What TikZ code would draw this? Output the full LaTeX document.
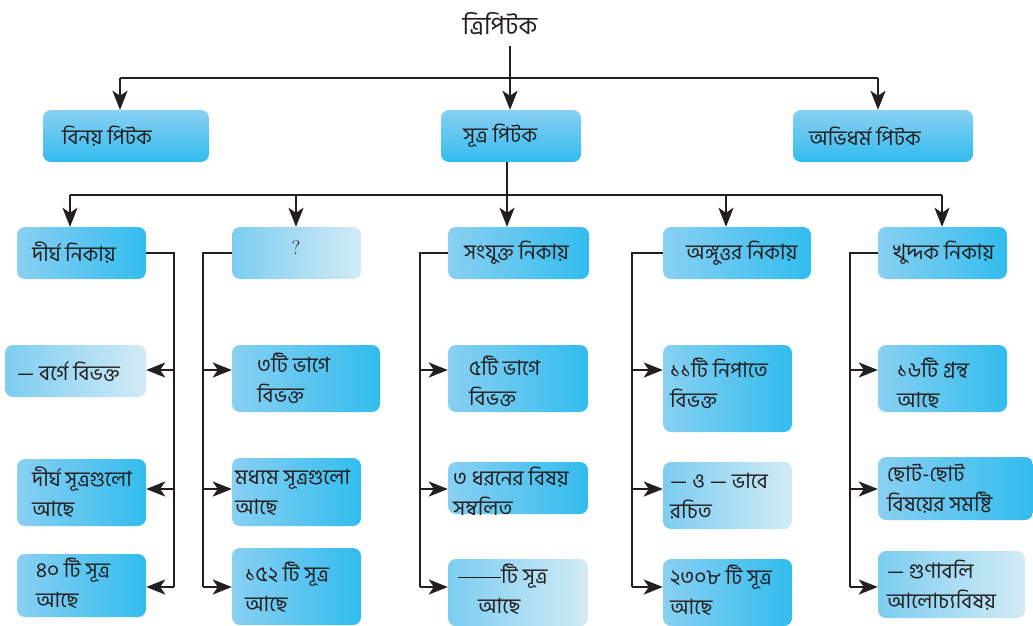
\documentclass[tikz,border=0pt]{standalone}
\usepackage{fontspec}
\newfontfamily\bn[Script=Bengali]{Hind Siliguri}
\usetikzlibrary{arrows.meta,calc}
\definecolor{bL}{RGB}{137,208,242}
\definecolor{bD}{RGB}{50,188,238}
\definecolor{pl}{RGB}{210,235,245}
\definecolor{ink}{RGB}{35,31,32}
\tikzset{
 ln/.style={draw=ink, line width=2.4pt},
 arr/.style={ln, -{Stealth[length=19pt,width=15pt,inset=5pt]}},
 boxv/.style={rounded corners=8pt, top color=bL, bottom color=bD, inner sep=0pt},
 boxh/.style={rounded corners=8pt, left color=bL, right color=bD, inner sep=0pt},
 boxp/.style={rounded corners=8pt, left color=bL!85!bD, right color=pl, inner sep=0pt},
 txt/.style={font=\bn\fontsize{21}{30}\selectfont, anchor=west, inner sep=0pt, align=left, text=ink},
}
\newcommand\mybox[6]{\node[#6, minimum width={(#4-#2)*1pt}, minimum height={(#5-#3)*1pt}] (#1) at ({(#2+#4)/2},{(#3+#5)/2}) {};}
\begin{document}
\begin{tikzpicture}[x=1pt,y=-1pt]
\useasboundingbox (0,0) rectangle (1033,626);
% boxes
\mybox{vin}{43}{110}{209}{162}{boxv}
\mybox{sut}{441}{110}{581}{162}{boxv}
\mybox{abh}{793}{110}{973}{162}{boxv}
\mybox{dir}{17}{227}{146}{279}{boxh}
\mybox{que}{232}{227}{361}{279}{boxp}
\mybox{sam}{448}{227}{589}{279}{boxh}
\mybox{ang}{663}{227}{811}{279}{boxh}
\mybox{khu}{878}{227}{1007}{279}{boxh}
\mybox{d1}{5}{345}{146}{397}{boxp}
\mybox{d2}{17}{459}{146}{526}{boxh}
\mybox{d3}{17}{554}{146}{617}{boxh}
\mybox{q1}{232}{345}{380}{412}{boxh}
\mybox{q2}{232}{458}{361}{526}{boxh}
\mybox{q3}{232}{548}{361}{625}{boxh}
\mybox{s1}{448}{345}{588}{412}{boxh}
\mybox{s2}{448}{462}{588}{514}{boxh}
\mybox{s3}{448}{559}{588}{626}{boxp}
\mybox{a1}{663}{345}{792}{432}{boxh}
\mybox{a2}{663}{462}{792}{529}{boxp}
\mybox{a3}{663}{559}{792}{626}{boxh}
\mybox{k1}{878}{345}{1007}{412}{boxh}
\mybox{k2}{878}{457}{1033}{520}{boxh}
\mybox{k3}{878}{551}{1025}{618}{boxp}
% texts
\node[txt, anchor=center, font=\bn\fontsize{25}{28}\selectfont] (title) at (500,24) {ত্রিপিটক};
\node[txt] (vin-t) at (62,136) {বিনয় পিটক};
\node[txt] (sut-t) at (463,136) {সূত্র পিটক};
\node[txt] (abh-t) at (809,136) {অভিধর্ম পিটক};
\node[txt] (dir-t) at (32,253) {দীর্ঘ নিকায়};
\node[anchor=center, font=\fontsize{20}{22}\selectfont, text=ink] (que-t) at (296,247) {?};
\node[txt] (sam-t) at (464,253) {সংযুক্ত নিকায়};
\node[txt] (ang-t) at (686,253) {অঙ্গুত্তর নিকায়};
\node[txt] (khu-t) at (893,253) {খুদ্দক নিকায়};
\node[txt] (d1-t) at (17,372) {— বর্গে বিভক্ত};
\node[txt] (d2-t) at (32,492) {দীর্ঘ সূত্রগুলো\\আছে};
\node[txt] (d3-t) at (36,583) {৪০ টি সূত্র\\আছে};
\node[txt] (q1-t) at (257,378) {৩টি ভাগে\\বিভক্ত};
\node[txt] (q2-t) at (235,492) {মধ্যম সূত্রগুলো\\আছে};
\node[txt] (q3-t) at (245,587) {১৫২ টি সূত্র\\আছে};
\node[txt] (s1-t) at (469,381) {৫টি ভাগে\\বিভক্ত};
\node[txt] (s2-t) at (453,491) {৩ ধরনের বিষয়\\সম্বলিত};
\node[txt] (s3-t) at (458,589) {\rule[5pt]{43pt}{1pt}টি সূত্র\\\hspace*{20pt}আছে};
\node[txt] (a1-t) at (670,383) {১১টি নিপাতে\\বিভক্ত};
\node[txt] (a2-t) at (670,496) {— ও — ভাবে\\রচিত};
\node[txt] (a3-t) at (670,590) {২৩০৮ টি সূত্র\\আছে};
\node[txt] (k1-t) at (897,383) {১৬টি গ্রন্থ\\আছে};
\node[txt] (k2-t) at (887,489) {ছোট-ছোট\\বিষয়ের সমষ্টি};
\node[txt] (k3-t) at (887,585) {— গুণাবলি\\আলোচ্যবিষয়};
% connector coordinates
\coordinate (top) at (510,46);
\coordinate (ta) at (120,78);
\coordinate (tc) at (878,78);
\coordinate (b1) at (70,195);
\coordinate (b2) at (296,195);
\coordinate (b3) at (507,195);
\coordinate (b4) at (726,195);
\coordinate (b5) at (942,195);
\coordinate (r1) at (0,370);
\coordinate (r2) at (0,489);
\coordinate (r3) at (0,587);
\coordinate (c1) at (174,587);
\coordinate (c2) at (203,587);
\coordinate (c3) at (420,587);
\coordinate (c4) at (632,587);
\coordinate (c5) at (850,587);
% level 1
\draw[ln] (ta) -- (tc);
\draw[arr] (top) -- (top |- sut.north);
\draw[arr] (ta) -- (ta |- vin.north);
\draw[arr] (tc) -- (tc |- abh.north);
% level 2
\draw[ln] (b3 |- sut.south) -- (b3);
\draw[ln] (b1) -- (b5);
\draw[arr] (b1) -- (b1 |- dir.north);
\draw[arr] (b2) -- (b2 |- que.north);
\draw[arr] (b3) -- (b3 |- sam.north);
\draw[arr] (b4) -- (b4 |- ang.north);
\draw[arr] (b5) -- (b5 |- khu.north);
% columns
\draw[ln] (dir.east) -- (c1 |- dir.east) -- (c1);
\draw[ln] (que.west) -- (c2 |- que.west) -- (c2);
\draw[ln] (sam.west) -- (c3 |- sam.west) -- (c3);
\draw[ln] (ang.west) -- (c4 |- ang.west) -- (c4);
\draw[ln] (khu.west) -- (c5 |- khu.west) -- (c5);
\foreach \n/\r in {d1/r1,d2/r2,d3/r3}{\draw[arr] (c1 |- \r) -- (\n.east |- \r);}
\foreach \n/\r in {q1/r1,q2/r2,q3/r3}{\draw[arr] (c2 |- \r) -- (\n.west |- \r);}
\foreach \n/\r in {s1/r1,s2/r2,s3/r3}{\draw[arr] (c3 |- \r) -- (\n.west |- \r);}
\foreach \n/\r in {a1/r1,a2/r2,a3/r3}{\draw[arr] (c4 |- \r) -- (\n.west |- \r);}
\foreach \n/\r in {k1/r1,k2/r2,k3/r3}{\draw[arr] (c5 |- \r) -- (\n.west |- \r);}
\end{tikzpicture}
\end{document}
